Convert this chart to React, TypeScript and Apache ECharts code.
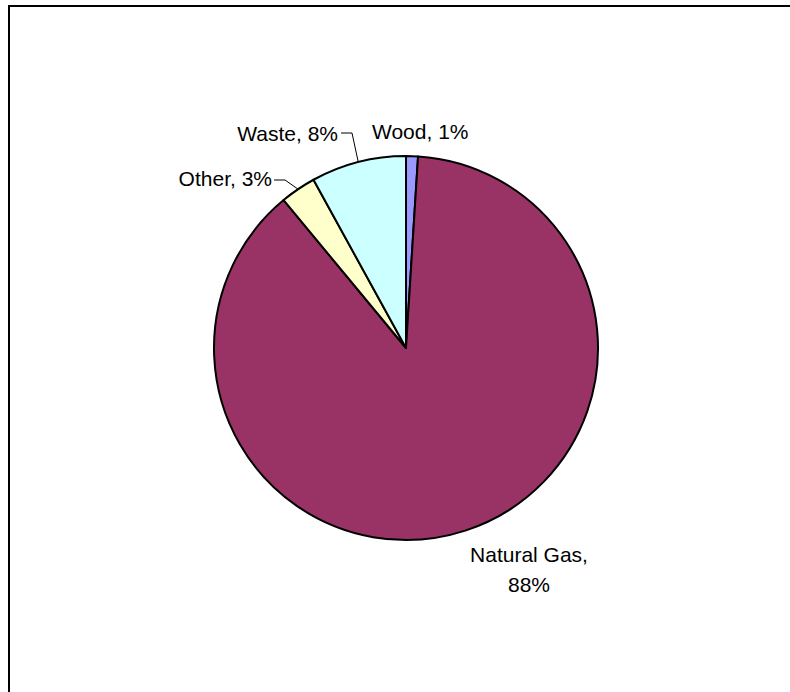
import React, { useEffect, useRef } from "react";
import * as echarts from "echarts";

const categories = ["Wood", "Natural Gas", "Other", "Waste"];
const values = [1, 88, 3, 8];
const colors = ["#9999FF", "#993366", "#FFFFCC", "#CCFFFF"];

// label anchor positions (layout only)
const labelAnchors = [
  { x: 372, y: 131, align: "left" },
  { x: 529, y: 569, align: "center" },
  { x: 272, y: 178, align: "right" },
  { x: 338, y: 133, align: "right" },
];
const labelElbows: (number[] | null)[] = [null, null, [285, 180], [352, 133]];
const labelEnds: (number[] | null)[] = [null, null, [274, 180], [341, 133]];

export default function App() {
  const ref = useRef<HTMLDivElement>(null);
  useEffect(() => {
    if (!ref.current) return;
    const chart = echarts.init(ref.current, null, { renderer: "svg" });
    const font = "Arial, 'Liberation Sans', sans-serif";
    chart.setOption({
      animation: false,
      backgroundColor: "#ffffff",
      graphic: [
        {
          type: "rect",
          shape: { x: 9, y: 6, width: 800, height: 700 },
          style: { fill: "none", stroke: "#000000", lineWidth: 2 },
          z: 100,
        },
      ],
      series: [
        {
          type: "pie",
          center: [406, 348],
          radius: 192,
          startAngle: 90,
          clockwise: true,
          percentPrecision: 0,
          itemStyle: { borderColor: "#000000", borderWidth: 2 },
          emphasis: { disabled: true },
          label: {
            show: true,
            position: "outside",
            color: "#000000",
            fontFamily: font,
            fontSize: 21,
            lineHeight: 30,
            formatter: (p: any) =>
              p.name === "Natural Gas"
                ? `${p.name},\n${Math.round(p.percent)}%`
                : `${p.name}, ${Math.round(p.percent)}%`,
          },
          labelLine: {
            show: true,
            lineStyle: { color: "#000000", width: 1 },
          },
          labelLayout: (params: any) => {
            const i = params.dataIndex;
            const a = labelAnchors[i];
            const res: any = {
              x: a.x,
              y: a.y,
              align: a.align,
              verticalAlign: "middle",
            };
            const elbow = labelElbows[i];
            const end = labelEnds[i];
            if (elbow && end && params.labelLinePoints) {
              res.labelLinePoints = [params.labelLinePoints[0], elbow, end];
            }
            return res;
          },
          data: categories.map((c, i) => ({
            name: c,
            value: values[i],
            itemStyle: { color: colors[i] },
            labelLine: { show: labelElbows[i] !== null },
          })),
        },
      ],
    });
    return () => chart.dispose();
  }, []);
  return (
    <div
      ref={ref}
      style={{ position: "fixed", left: 0, top: 0, width: 790, height: 692 }}
    />
  );
}
